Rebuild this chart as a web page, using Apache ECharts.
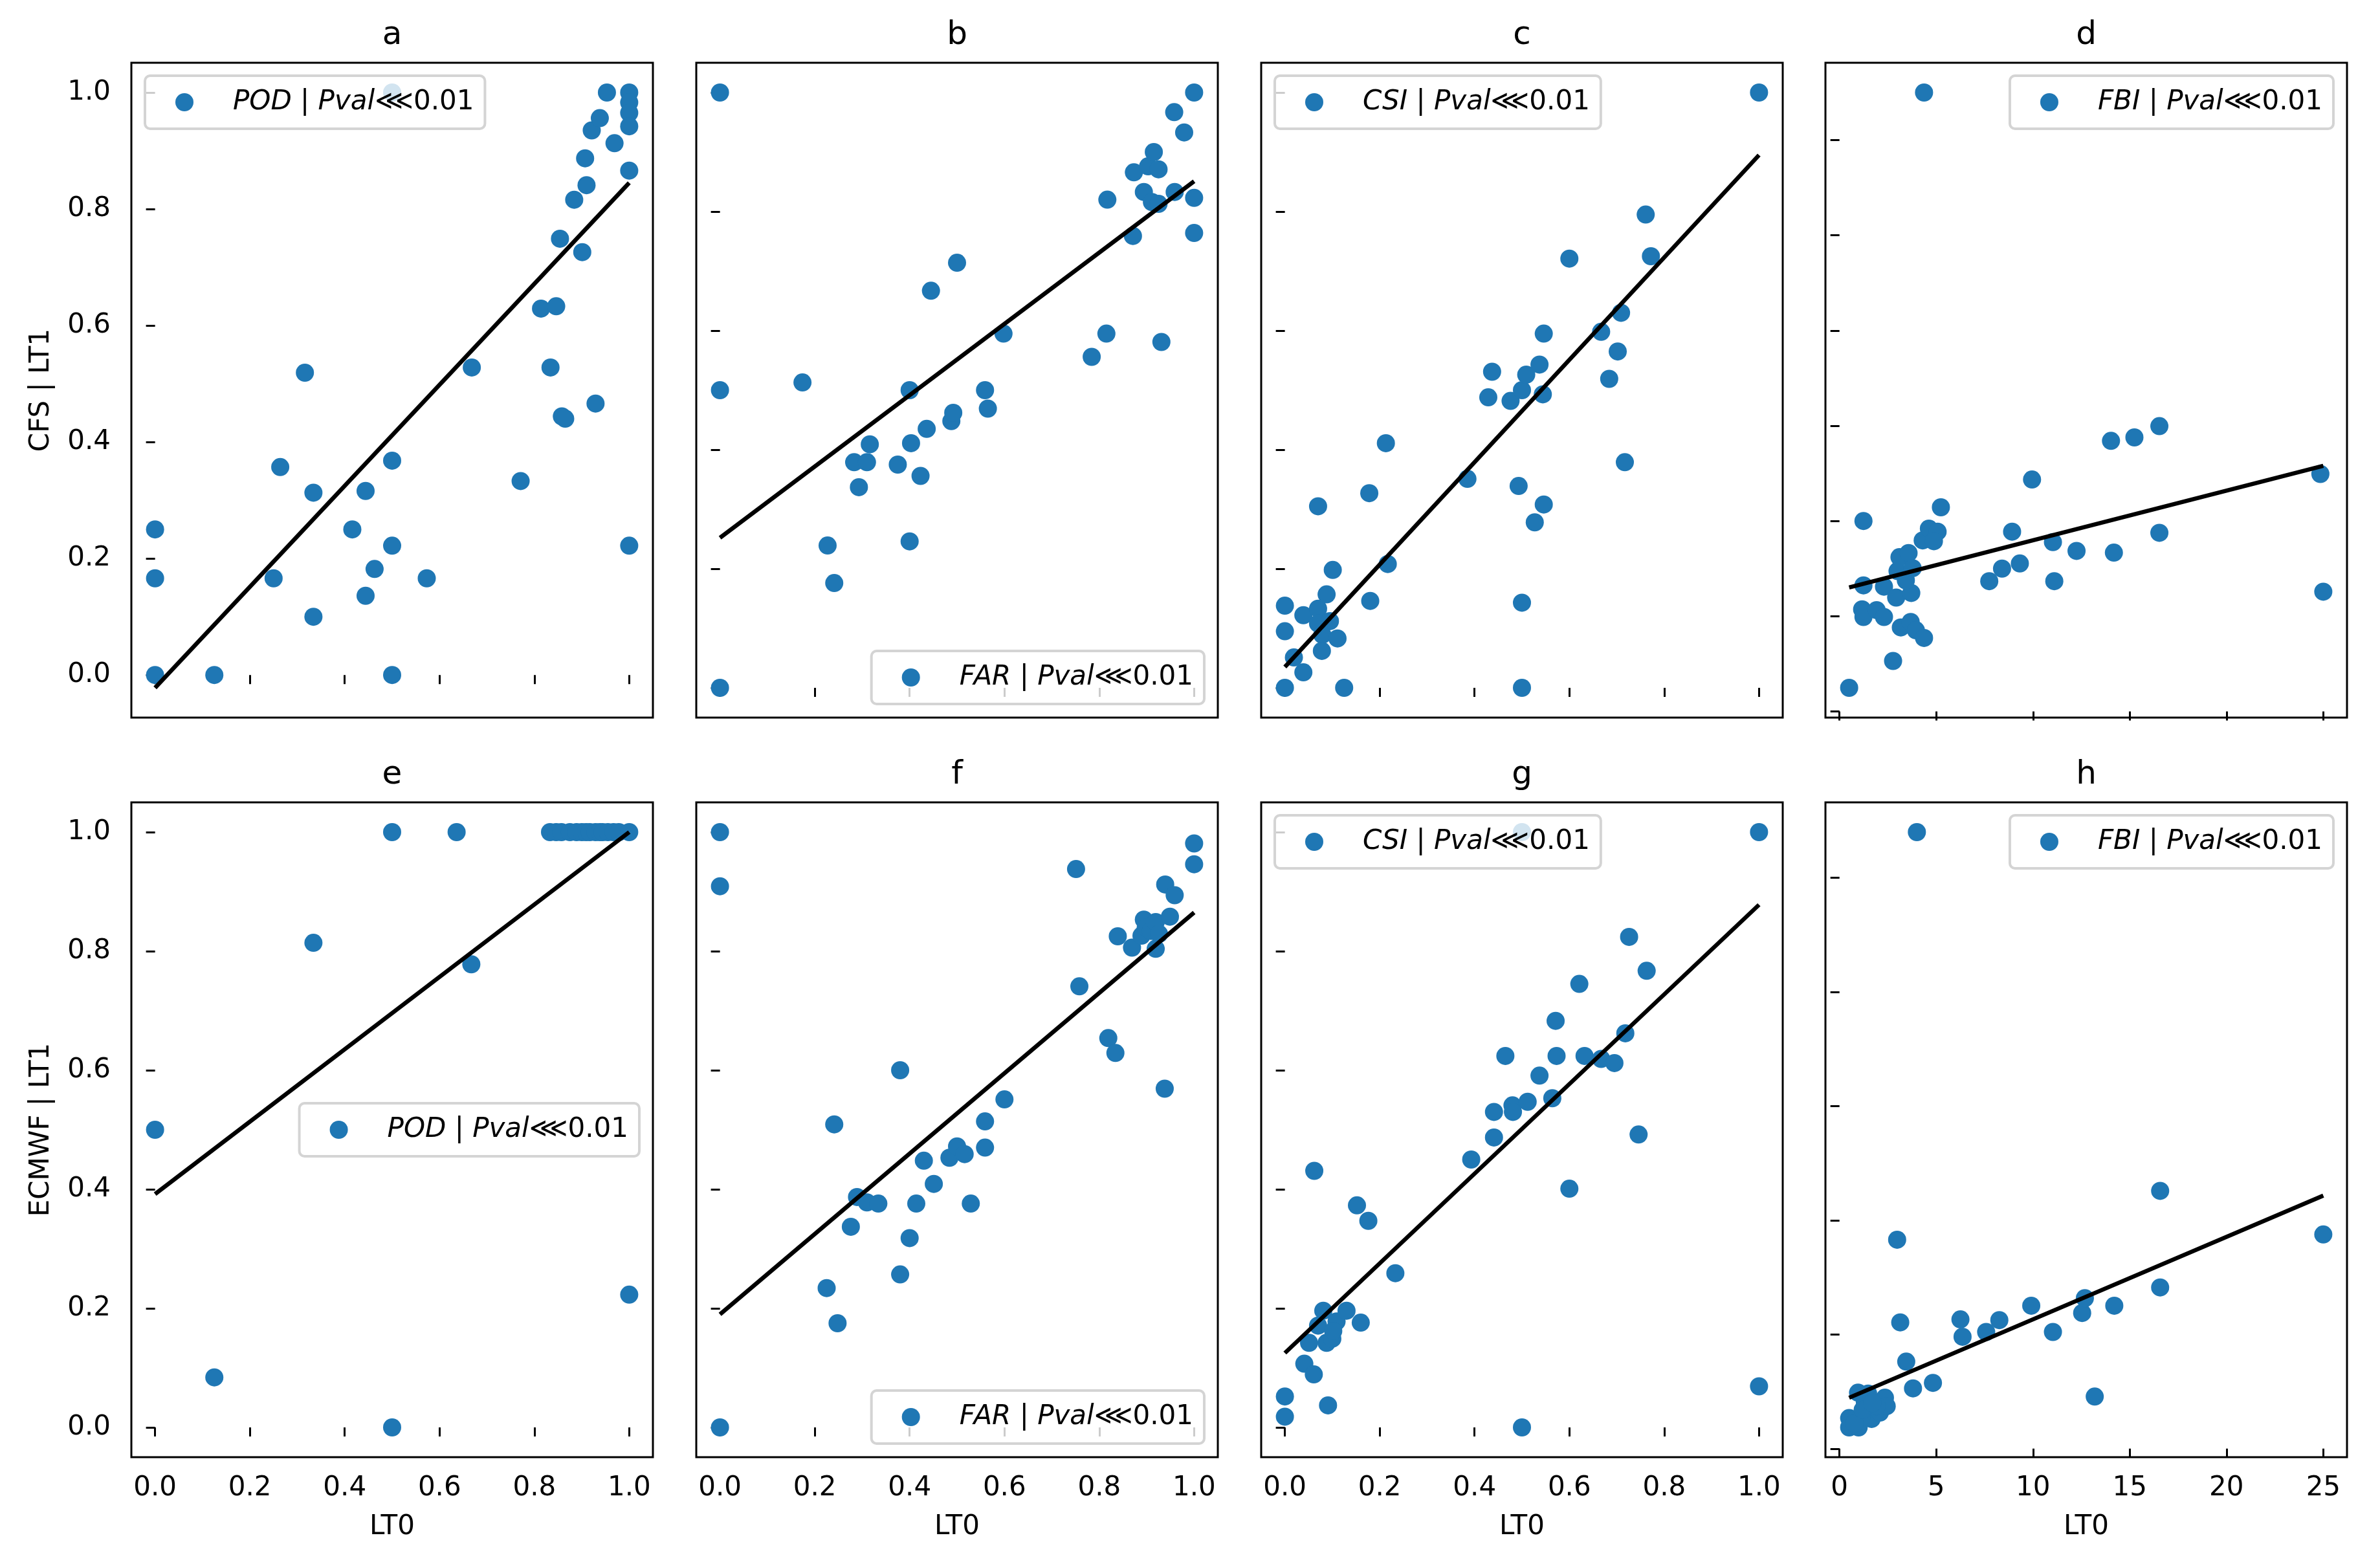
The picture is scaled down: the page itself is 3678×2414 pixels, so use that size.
<!DOCTYPE html>
<html>
<head>
<meta charset="utf-8">
<script src="https://cdn.jsdelivr.net/npm/echarts@6/dist/echarts.min.js"></script>
<style>
  html, body { margin: 0; padding: 0; background: #fff; }
  #chart { width: 3678px; height: 2414px; }
</style>
</head>
<body>
<div id="chart"></div>
<script>
// labels
const panelTitles = ['a', 'b', 'c', 'd', 'e', 'f', 'g', 'h'];
const metrics = ['POD', 'FAR', 'CSI', 'FBI', 'POD', 'FAR', 'CSI', 'FBI'];
const rowLabels = ['CFS | LT1', 'ECMWF | LT1'];
const xLabel = 'LT0';

// tick values
const unitTicks = [0, 0.2, 0.4, 0.6, 0.8, 1.0];
const fbiXTicks = [0, 5, 10, 15, 20, 25];
const fbiYTicksTop = [0, 5, 10, 15, 20, 25, 30];
const fbiYTicksBottom = [0, 5, 10, 15, 20, 25];

// points [LT0, LT1]
const aPoints = [[0,0],[0,0.166],[0,0.25],[0.125,0],[0.5,0],[0.25,0.166],[0.264,0.357],[0.316,0.519],[0.334,0.313],[0.334,0.1],[0.416,0.25],[0.444,0.316],[0.444,0.136],[0.463,0.182],[0.5,0.368],[0.5,0.222],[0.573,0.166],[0.5,1.0],[0.668,0.528],[0.771,0.333],[0.814,0.629],[0.846,0.633],[0.834,0.528],[0.858,0.444],[0.865,0.44],[0.929,0.466],[0.854,0.749],[0.901,0.726],[0.884,0.816],[0.91,0.841],[0.907,0.887],[0.921,0.935],[0.938,0.956],[0.969,0.913],[0.953,1.0],[1,1.0],[1,0.983],[1,0.965],[1,0.942],[1,0.866],[1,0.222]];
const bPoints = [[0,1],[0,0.5],[0,0],[0.174,0.513],[0.227,0.239],[0.241,0.176],[0.283,0.379],[0.31,0.379],[0.316,0.409],[0.293,0.337],[0.375,0.375],[0.4,0.5],[0.403,0.411],[0.423,0.356],[0.4,0.246],[0.436,0.435],[0.445,0.667],[0.5,0.714],[0.488,0.448],[0.492,0.462],[0.559,0.5],[0.565,0.469],[0.598,0.595],[0.784,0.556],[0.815,0.595],[0.817,0.82],[0.871,0.759],[0.873,0.866],[0.894,0.833],[0.903,0.876],[0.915,0.9],[0.925,0.871],[0.911,0.816],[0.925,0.813],[0.931,0.581],[0.959,0.833],[0.958,0.967],[0.979,0.933],[1,1],[1,0.823],[1,0.764]];
const cPoints = [[1,1],[0,0],[0.125,0],[0.5,0],[0,0.138],[0,0.095],[0.039,0.122],[0.019,0.051],[0.039,0.026],[0.07,0.133],[0.088,0.157],[0.101,0.198],[0.07,0.305],[0.07,0.108],[0.095,0.112],[0.079,0.089],[0.111,0.083],[0.078,0.062],[0.178,0.327],[0.18,0.146],[0.213,0.411],[0.217,0.208],[0.385,0.351],[0.429,0.488],[0.437,0.531],[0.476,0.482],[0.5,0.5],[0.509,0.526],[0.537,0.543],[0.544,0.493],[0.546,0.595],[0.493,0.339],[0.5,0.143],[0.546,0.308],[0.527,0.278],[0.6,0.721],[0.667,0.598],[0.684,0.519],[0.702,0.565],[0.709,0.63],[0.717,0.379],[0.761,0.795],[0.772,0.725]];
const dPoints = [[4.37,32.5],[0.5,1.24],[2.77,2.65],[1.24,10.0],[1.24,6.62],[1.17,5.36],[1.24,4.96],[1.92,5.32],[2.3,4.96],[2.3,6.55],[2.93,5.98],[3.17,4.41],[3.68,4.7],[3.95,4.26],[4.37,3.86],[3.71,6.22],[3.43,6.88],[3.0,7.37],[3.1,8.1],[3.57,8.32],[3.78,7.52],[4.3,8.98],[4.62,9.6],[5.07,9.44],[4.88,8.94],[5.24,10.72],[7.74,6.84],[8.4,7.5],[9.32,7.77],[8.92,9.44],[9.95,12.18],[11.03,8.89],[11.1,6.84],[12.25,8.43],[14.03,14.21],[14.18,8.34],[15.24,14.39],[16.53,14.98],[16.53,9.38],[24.85,12.47],[25.0,6.29]];
const ePoints = [[0,0.5],[0.125,0.084],[0.5,0],[0.334,0.814],[0.5,1],[0.636,1],[0.667,0.778],[1,0.223],[0.833,1],[0.846,1],[0.857,1],[0.875,1],[0.889,1],[0.9,1],[0.909,1],[0.917,1],[0.929,1],[0.938,1],[0.944,1],[0.955,1],[0.967,1],[0.978,1],[1,1]];
const fPoints = [[0,1],[0,0.909],[0,0],[0.225,0.234],[0.248,0.175],[0.241,0.509],[0.276,0.337],[0.289,0.387],[0.31,0.378],[0.334,0.376],[0.38,0.6],[0.38,0.257],[0.4,0.318],[0.414,0.376],[0.43,0.448],[0.451,0.409],[0.484,0.453],[0.5,0.472],[0.516,0.459],[0.529,0.376],[0.559,0.514],[0.559,0.47],[0.6,0.551],[0.751,0.938],[0.758,0.741],[0.819,0.654],[0.834,0.629],[0.839,0.825],[0.869,0.806],[0.889,0.826],[0.894,0.853],[0.898,0.84],[0.909,0.834],[0.919,0.804],[0.919,0.849],[0.926,0.829],[0.949,0.858],[0.938,0.569],[0.939,0.912],[0.959,0.894],[1,0.981],[1,0.946]];
const gPoints = [[1,1],[1,0.069],[0.5,0],[0.5,1],[0,0.052],[0,0.018],[0.091,0.037],[0.041,0.107],[0.061,0.089],[0.062,0.431],[0.051,0.142],[0.07,0.171],[0.081,0.196],[0.088,0.142],[0.1,0.149],[0.109,0.178],[0.102,0.162],[0.13,0.196],[0.16,0.176],[0.152,0.373],[0.176,0.347],[0.233,0.259],[0.393,0.45],[0.441,0.487],[0.441,0.53],[0.465,0.624],[0.48,0.541],[0.481,0.53],[0.512,0.547],[0.537,0.591],[0.564,0.553],[0.571,0.683],[0.573,0.624],[0.6,0.401],[0.621,0.745],[0.632,0.624],[0.667,0.619],[0.695,0.612],[0.718,0.662],[0.726,0.824],[0.746,0.492],[0.763,0.767]];
const hPoints = [[4.0,27.0],[2.98,9.15],[3.14,5.53],[3.45,3.81],[3.8,2.64],[4.83,2.88],[6.25,5.66],[6.36,4.9],[7.58,5.11],[8.26,5.63],[9.91,6.26],[11.03,5.11],[12.54,5.94],[12.68,6.59],[13.19,2.28],[14.2,6.26],[16.57,11.29],[16.57,7.06],[25.0,9.38],[0.5,1.34],[0.5,0.93],[0.99,0.93],[0.96,2.45],[1.48,2.41],[1.48,1.86],[1.66,1.3],[2.09,1.58],[2.35,2.23],[2.44,1.86],[1.13,1.39],[1.92,1.86],[1.31,2.04],[0.78,1.11],[1.2,1.7],[1.7,2.0]];

// regression line end points
const aFit = [[0, -0.022], [1, 0.845]];
const bFit = [[0, 0.252], [1, 0.851]];
const cFit = [[0, 0.035], [1, 0.895]];
const dFit = [[0.5, 6.51], [25.0, 12.9]];
const eFit = [[0, 0.392], [1, 1.0]];
const fFit = [[0, 0.19], [1, 0.865]];
const gFit = [[0, 0.125], [1, 0.878]];
const hFit = [[0.5, 2.23], [25.0, 11.08]];

const points = [aPoints, bPoints, cPoints, dPoints, ePoints, fPoints, gPoints, hPoints];
const fits = [aFit, bFit, cFit, dFit, eFit, fFit, gFit, hFit];
const xTicks = [unitTicks, unitTicks, unitTicks, fbiXTicks, unitTicks, unitTicks, unitTicks, fbiXTicks];
const yTicks = [unitTicks, unitTicks, unitTicks, fbiYTicksTop, unitTicks, unitTicks, unitTicks, fbiYTicksBottom];

// layout
const W = 3678, H = 2414;
const colLeft = [203, 1076, 1949, 2821];
const rowTop = [97, 1240];
const gridW = 806, gridH = 1012;
const legendPos = ['ul', 'lr', 'ul', 'ur', 'cr', 'lr', 'ul', 'ur'];
const legendH = 82, legendGap = 21;
const font = 'DejaVu Sans';
const blue = '#1f77b4';

const pad = v => (v.max - v.min) * 0.05;

let grid = [], xAxis = [], yAxis = [], series = [], legend = [], graphic = [];

for (let i = 0; i < 8; i++) {
  const r = Math.floor(i / 4), c = i % 4;
  const left = colLeft[c], top = rowTop[r];
  const isUnit = c < 3;

  grid.push({
    left: left, top: top, width: gridW, height: gridH,
    show: true, borderColor: '#000', borderWidth: 3, backgroundColor: 'transparent'
  });

  xAxis.push({
    type: 'value', gridIndex: i,
    min: v => v.min - pad(v), max: v => v.max + pad(v),
    splitLine: { show: false },
    axisLine: { show: false },
    axisTick: { show: true, length: 14, lineStyle: { color: '#000', width: 3 }, customValues: xTicks[i] },
    axisLabel: {
      show: r === 1, margin: 27, fontSize: 42, color: '#000', fontFamily: font,
      customValues: xTicks[i],
      formatter: v => isUnit ? v.toFixed(1) : String(v)
    },
    name: r === 1 ? xLabel : '', nameLocation: 'middle', nameGap: 87,
    nameTextStyle: { fontSize: 42, color: '#000', fontFamily: font }
  });

  yAxis.push({
    type: 'value', gridIndex: i,
    min: v => v.min - pad(v), max: v => v.max + pad(v),
    splitLine: { show: false },
    axisLine: { show: false },
    axisTick: { show: true, length: 14, lineStyle: { color: '#000', width: 3 }, customValues: yTicks[i] },
    axisLabel: {
      show: c === 0, margin: 32, fontSize: 42, color: '#000', fontFamily: font,
      customValues: yTicks[i],
      formatter: v => v.toFixed(1)
    },
    name: c === 0 ? rowLabels[r] : '', nameLocation: 'middle', nameGap: 118,
    nameTextStyle: { fontSize: 42, color: '#000', fontFamily: font }
  });

  series.push({
    type: 'scatter', name: panelTitles[i], xAxisIndex: i, yAxisIndex: i,
    data: points[i], symbol: 'circle', symbolSize: 28,
    itemStyle: { color: blue, opacity: 1 }, z: 2
  });
  series.push({
    type: 'line', xAxisIndex: i, yAxisIndex: i, data: fits[i],
    symbol: 'none', silent: true,
    lineStyle: { color: '#000', width: 6.5 }, z: 3
  });

  // legend placement
  const lg = {
    data: [panelTitles[i]], selectedMode: false,
    icon: 'circle', itemWidth: 28, itemHeight: 28, itemGap: 0,
    padding: [19, 17, 19, 47],
    backgroundColor: 'rgba(255,255,255,0.8)',
    borderColor: '#d4d4d4', borderWidth: 4, borderRadius: 8,
    textStyle: {
      fontSize: 42, lineHeight: 44, color: '#000', fontFamily: font, padding: [0, 0, 0, 56],
      rich: { i: { fontStyle: 'italic', fontSize: 42, lineHeight: 44, fontFamily: font, color: '#000' } }
    },
    formatter: name => '{i|' + metrics[panelTitles.indexOf(name)] + '} | {i|Pval}\u22D80.01'
  };
  const p = legendPos[i];
  if (p === 'ul') { lg.left = left + legendGap; lg.top = top + legendGap - 1; }
  if (p === 'ur') { lg.right = W - (left + gridW - legendGap); lg.top = top + legendGap - 1; }
  if (p === 'lr') { lg.right = W - (left + gridW - legendGap); lg.top = top + gridH - legendGap - legendH; }
  if (p === 'cr') { lg.right = W - (left + gridW - legendGap); lg.top = top + gridH / 2 - legendH / 2; }
  legend.push(lg);

  // panel title
  graphic.push({
    type: 'text', x: left + gridW / 2, y: top - 42,
    style: { text: panelTitles[i], fontSize: 50, fontFamily: font, fill: '#000', align: 'center', verticalAlign: 'middle' }
  });
}

const chart = echarts.init(document.getElementById('chart'));
chart.setOption({
  animation: false,
  backgroundColor: '#fff',
  grid: grid,
  xAxis: xAxis,
  yAxis: yAxis,
  legend: legend,
  graphic: graphic,
  series: series
});
</script>
</body>
</html>
